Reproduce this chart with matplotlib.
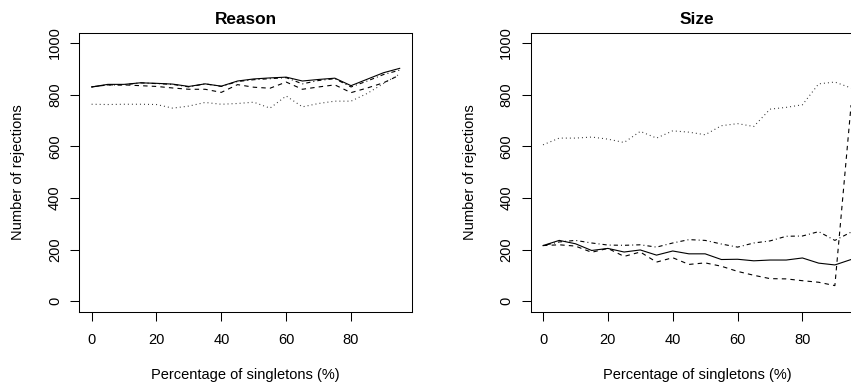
import matplotlib
matplotlib.use("Agg")
import matplotlib.pyplot as plt

plt.rcParams["font.family"] = ["Liberation Sans", "DejaVu Sans"]
plt.rcParams["lines.scale_dashes"] = False

# percentage of singletons
pct = [0, 5, 10, 15, 20, 25, 30, 35, 40, 45, 50, 55, 60, 65, 70, 75, 80, 85, 90, 95]

# Reason panel
reason_solid = [830, 840, 840, 846, 844, 841, 832, 842, 833, 853, 861, 865, 868, 853, 859, 864, 835, 860, 885, 902]
reason_dashed = [830, 838, 838, 835, 832, 826, 821, 821, 809, 839, 829, 825, 849, 821, 830, 838, 808, 826, 846, 876]
reason_dotted = [763, 762, 763, 763, 762, 748, 756, 770, 763, 766, 771, 748, 795, 753, 766, 775, 775, 805, 843, 880]
reason_dotdash = [830, 838, 838, 846, 843, 840, 830, 842, 832, 851, 858, 862, 866, 842, 855, 862, 830, 853, 878, 895]

# Size panel
size_solid = [216, 236, 223, 197, 205, 191, 199, 179, 195, 184, 184, 162, 163, 157, 160, 160, 168, 148, 141, 162]
size_dashed = [216, 219, 214, 190, 205, 174, 191, 152, 169, 143, 149, 136, 116, 101, 88, 87, 80, 74, 61, 760]
size_dotted = [606, 632, 632, 636, 628, 615, 658, 632, 660, 655, 645, 680, 688, 677, 744, 751, 761, 842, 849, 826]
size_dotdash = [216, 230, 236, 226, 218, 217, 219, 210, 226, 239, 236, 222, 210, 226, 234, 252, 253, 270, 236, 268]

xticks = [0, 20, 40, 60, 80]
yticks = [0, 200, 400, 600, 800, 1000]

styles = {
    "solid": dict(linestyle="-", color="black"),
    "dashed": dict(linestyle=(0, (3.2, 3.0)), color="black"),
    "dotted": dict(linestyle=(0, (0.7, 2.2)), color="#333333"),
    "dotdash": dict(linestyle=(0, (0.7, 2.2, 3.0, 2.2)), color="black"),
}

fig = plt.figure(figsize=(8.51, 3.86), dpi=100)
ax1 = fig.add_axes([79.3 / 851, 74.3 / 386, 332.7 / 851, 279 / 386])
ax2 = fig.add_axes([530.7 / 851, 74.3 / 386, 332.7 / 851, 279 / 386])

panels = [
    (ax1, "Reason", reason_solid, reason_dashed, reason_dotted, reason_dotdash),
    (ax2, "Size", size_solid, size_dashed, size_dotted, size_dotdash),
]

for ax, title, s, d, o, dd in panels:
    ax.plot(pct, s, lw=0.8, **styles["solid"])
    ax.plot(pct, d, lw=0.8, **styles["dashed"])
    ax.plot(pct, o, lw=0.8, **styles["dotted"])
    ax.plot(pct, dd, lw=0.8, **styles["dotdash"])

    ax.set_xlim(-3.8, 98.8)
    ax.set_ylim(-40, 1040)
    ax.set_xticks(xticks)
    ax.set_yticks(yticks)
    ax.tick_params(axis="both", direction="out", length=6.5, width=0.75,
                   labelsize=10.5, color="black")
    ax.tick_params(axis="x", pad=9)
    ax.tick_params(axis="y", pad=6)
    for lab in ax.get_yticklabels():
        lab.set_rotation(90)
        lab.set_verticalalignment("center")
    for sp in ax.spines.values():
        sp.set_linewidth(0.75)
        sp.set_color("black")

    ax.set_title(title, fontsize=12.4, fontweight="bold", pad=6.5)
    ax.set_xlabel("Percentage of singletons (%)", fontsize=10.5)
    ax.set_ylabel("Number of rejections", fontsize=10.5)
    ax.xaxis.set_label_coords(0.5, -0.2)
    ax.yaxis.set_label_coords(-0.162, 0.5)

fig.savefig("out.png", dpi=100)
